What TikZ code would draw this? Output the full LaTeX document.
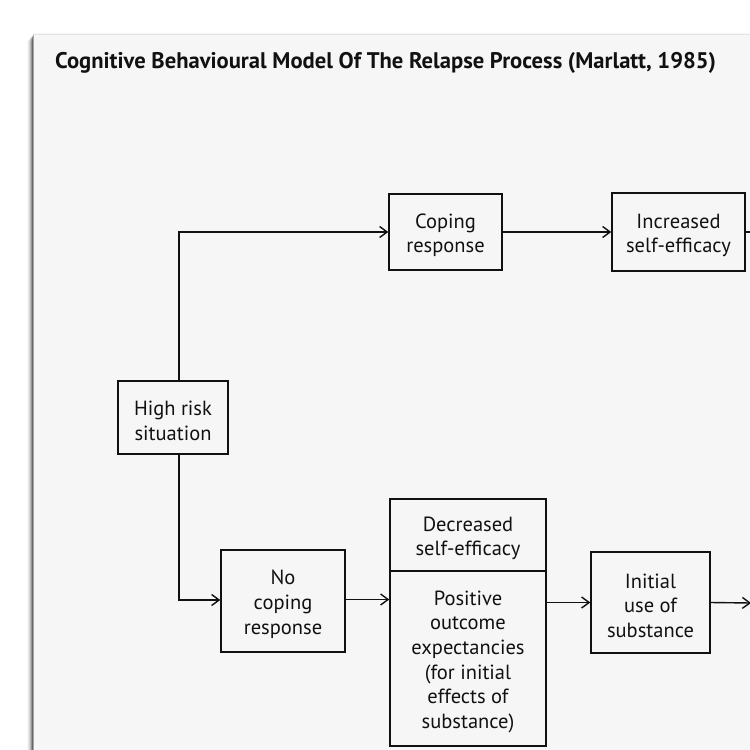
\documentclass[tikz,border=0pt]{standalone}
\usepackage{fontspec}
\setmainfont{PT Sans}
\usetikzlibrary{arrows.meta}
\definecolor{sheet}{HTML}{F6F6F6}
\definecolor{ink}{HTML}{111111}
% taller first line, so each block of text sits a little lower in its box
\newcommand{\lowerstrut}{\rule{0pt}{21pt}}
\begin{document}
\begin{tikzpicture}[x=1pt,y=-1pt,
  box/.style={draw=ink, line width=1.4pt, fill=sheet, inner sep=0pt, align=center,
    font=\fontsize{20.5}{24.6}\selectfont, text=ink},
  link/.style={draw=ink, line width=1.4pt},
  arr/.style={link, -{Straight Barb[length=7.5pt,width=11pt,line width=1.4pt]}}]
\useasboundingbox (0,0) rectangle (750,750);
\clip (0,0) rectangle (750,750);
\fill[white] (0,0) rectangle (750,750);
% soft shadow along the sheet's left and top edges
\foreach \d/\o in {1/0.30,2/0.20,3/0.13,4/0.08,5/0.05,6/0.03}{
  \fill[black,opacity=\o] (33-\d,35+\d) rectangle (33,752);
  \fill[black,opacity=\o*0.2] (33,35-\d*0.5) rectangle (752,35);
}
\fill[sheet] (33,35) rectangle (752,752);
\draw[gray!70,line width=1pt] (33.5,35) -- (33.5,752);

% title
\node[anchor=base west, inner sep=0pt, font=\bfseries\fontsize{22.6}{26}\selectfont, text=ink]
  (title) at (55,68) {Cognitive Behavioural Model Of The Relapse Process (Marlatt, 1985)};

% boxes
\node[box, minimum width=113pt, minimum height=76pt] (cope) at (445.5,232) {\lowerstrut Coping\\response};
\node[box, minimum width=133pt, minimum height=78pt] (incr) at (678.5,232) {\lowerstrut Increased\\self-efficacy};
\node[box, minimum width=110pt, minimum height=73pt] (hrs) at (173,417.5) {\lowerstrut High risk\\situation};
\node[box, minimum width=124pt, minimum height=102pt] (nocope) at (283,601) {\lowerstrut No\\coping\\response};
\node[box, minimum width=156pt, minimum height=72pt] (decr) at (468,535) {\lowerstrut Decreased\\self-efficacy};
\node[box, minimum width=156pt, minimum height=175pt] (pos) at (468,658.5)
  {\lowerstrut Positive\\outcome\\expectancies\\(for initial\\effects of\\substance)};
\node[box, minimum width=119pt, minimum height=101pt] (init) at (650.5,602.5) {\lowerstrut Initial\\use of\\substance};

\coordinate (out1) at (752,232);
\coordinate (out2) at (751,603);

% connectors
\draw[arr] ([xshift=6pt]hrs.north) |- (cope.west);
\draw[arr] ([xshift=6pt]hrs.south) |- ([yshift=1pt]nocope.west);
\draw[arr] (cope.east) -- (incr.west);
\draw[link] (incr.east) -- (out1);
\draw[arr] ([yshift=1.5pt]nocope.east) -- ([yshift=1.5pt]nocope.east -| pos.west);
\draw[arr] (init.west -| pos.east) -- (init.west);
\draw[arr] (init.east) -- (out2);
\end{tikzpicture}
\end{document}
